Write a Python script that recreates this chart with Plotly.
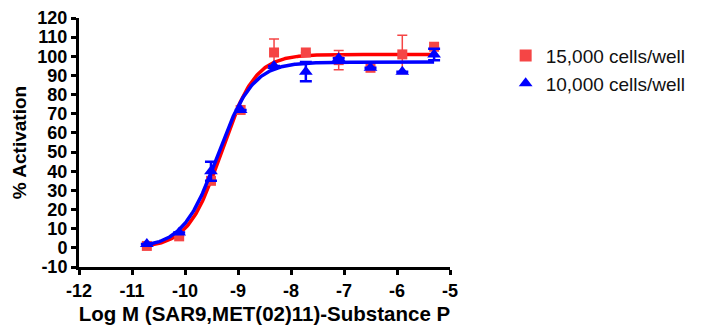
import numpy as np
import plotly.graph_objects as go

# Data
log_conc = [-10.72, -10.11, -9.51, -8.95, -8.32, -7.72, -7.10, -6.50, -5.90, -5.30]
red_vals = [1, 6, 35, 72, 102, 102, 98, 94, 101, 105]
red_err = [0, 0, 0, 0, 7, 0, 5, 0, 10, 0]
blue_vals = [2, 8, 40, 72, 95, 92, 99, 94, 92, 101]
blue_err = [0, 0, 5, 0, 0, 5, 0, 0, 0, 3]

# Fitted 4-parameter logistic parameters (bottom, top, logEC50, hill)
red_fit = (0.0, 101.0, -9.31, 1.38)
blue_fit = (0.0, 97.0, -9.38, 1.32)

series_names = ["15,000 cells/well", "10,000 cells/well"]
x_ticks = [-12, -11, -10, -9, -8, -7, -6, -5]
y_ticks = list(range(-10, 121, 10))


def logistic(x, p):
    b, t, ec, h = p
    return b + (t - b) / (1 + 10 ** ((ec - x) * h))


xs = np.linspace(min(log_conc), max(log_conc), 300)

RED = "#ff0000"
RED_M = "#f54545"
BLUE = "#0000ff"
FONT = "Arial, Liberation Sans, sans-serif"

fig = go.Figure()
fig.add_trace(go.Scatter(x=xs, y=logistic(xs, red_fit), mode="lines",
                         line=dict(color=RED, width=3.5), showlegend=False, hoverinfo="skip"))
fig.add_trace(go.Scatter(x=log_conc, y=red_vals, mode="markers", name=series_names[0],
                         marker=dict(symbol="square", size=10, color=RED_M),
                         error_y=dict(type="data", array=red_err, color=RED_M,
                                      thickness=1.5, width=5)))
fig.add_trace(go.Scatter(x=xs, y=logistic(xs, blue_fit), mode="lines",
                         line=dict(color=BLUE, width=3.5), showlegend=False, hoverinfo="skip"))
fig.add_trace(go.Scatter(x=log_conc, y=blue_vals, mode="markers", name=series_names[1],
                         marker=dict(symbol="triangle-up", size=12, color=BLUE),
                         error_y=dict(type="data", array=blue_err, color=BLUE,
                                      thickness=2.5, width=6)))

# The page body adds an 8px margin, so the figure is sized/offset to compensate.
fig.update_layout(
    width=693, height=319,
    margin=dict(l=71, r=248, t=10, b=60),
    plot_bgcolor="white", paper_bgcolor="white",
    font=dict(family=FONT, color="black"),
    legend=dict(x=1.15, y=0.925, xanchor="left", yanchor="top",
                font=dict(size=19, color="#111111"), itemsizing="constant",
                tracegroupgap=0, itemwidth=30, bgcolor="rgba(0,0,0,0)"),
    xaxis=dict(range=[-12, -5], tickmode="array", tickvals=x_ticks,
               ticktext=["<b>%d</b>" % v for v in x_ticks], showgrid=False, zeroline=False,
               showline=True, linecolor="black", linewidth=3, automargin=False,
               ticks="outside", ticklen=5, tickwidth=3, tickcolor="black",
               tickfont=dict(size=18, family=FONT, color="black"),
               title=dict(text="<b>Log M (SAR9,MET(02)11)-Substance P</b>",
                          font=dict(size=20.5, color="black"), standoff=8)),
    yaxis=dict(range=[-10, 120], tickmode="array", tickvals=y_ticks,
               ticktext=["<b>%d</b>" % v for v in y_ticks], showgrid=False, zeroline=False,
               showline=True, linecolor="black", linewidth=3, automargin=False,
               ticks="outside", ticklen=5, tickwidth=3, tickcolor="black",
               tickfont=dict(size=18, family=FONT, color="black"),
               title=dict(text="<b>% Activation</b>",
                          font=dict(size=19, color="black"), standoff=6)),
)

fig.write_html("out.html")
